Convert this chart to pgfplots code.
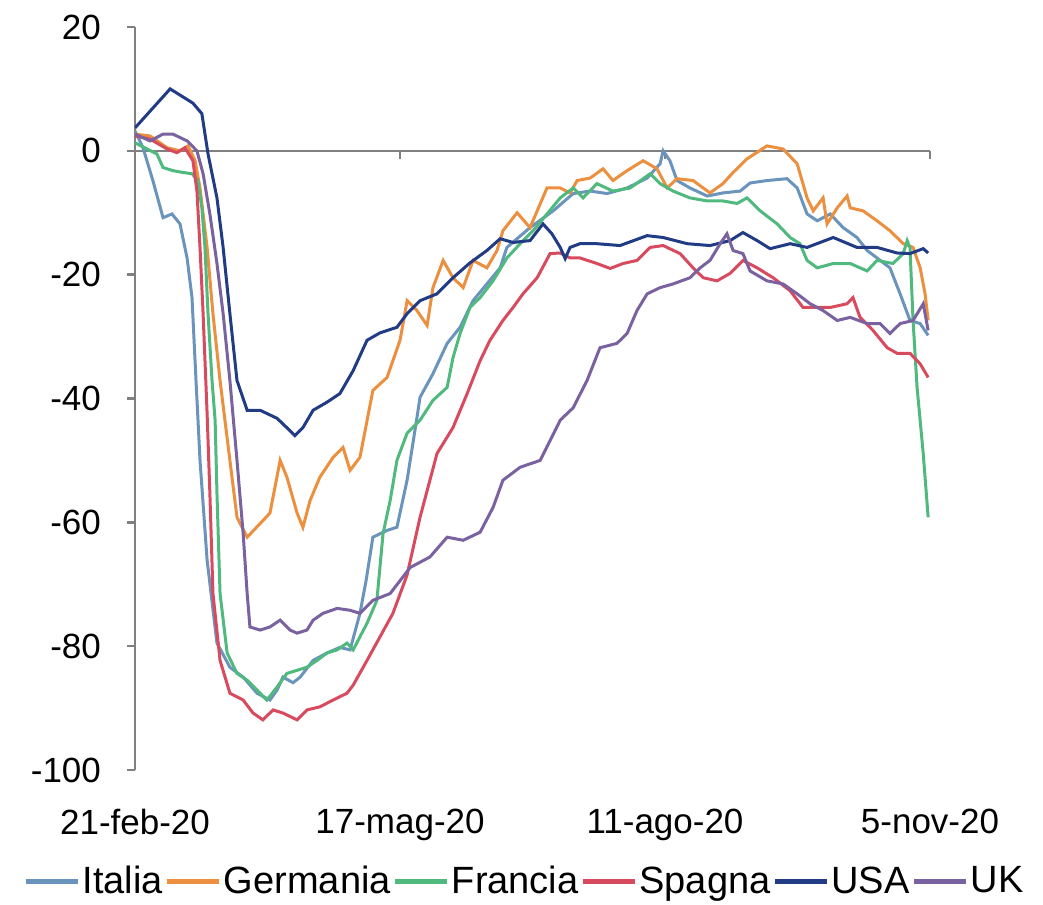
\documentclass[border=0pt]{standalone}
\usepackage{fontspec}
\setmainfont{Liberation Sans}
\usepackage{pgfplots}
\pgfplotsset{compat=1.18}

\definecolor{cItalia}{HTML}{6A94BC}
\definecolor{cGermania}{HTML}{EC8F3E}
\definecolor{cFrancia}{HTML}{4FB97E}
\definecolor{cSpagna}{HTML}{D84A5E}
\definecolor{cUSA}{HTML}{213C84}
\definecolor{cUK}{HTML}{7A62A0}
\definecolor{axgray}{HTML}{808080}

\begin{document}
\begin{tikzpicture}
\begin{axis}[
    scale only axis,
    width=397.5pt, height=371.5pt,
    xmin=0, xmax=258,
    ymin=-100, ymax=20,
    axis x line*=middle,
    axis y line*=left,
    hide obscured x ticks=false,
    axis line style={axgray, line width=1.2pt},
    tick style={axgray, line width=1.2pt},
    tick align=outside,
    major tick length=4pt,
    xtick={0,86,172,258},
    xticklabels={21-feb-20,17-mag-20,11-ago-20,5-nov-20},
    ytick={-100,-80,-60,-40,-20,0,20},
    yticklabels={-100,-80,-60,-40,-20,0,20},
    ticklabel style={font=\fontsize{17.5}{21}\selectfont},
    xticklabel shift=321.5pt,
    yticklabel style={xshift=-9.5pt},
    every axis plot/.append style={line width=1.5pt},
    legend columns=6,
    legend style={at={(0.49,-0.118)}, anchor=north, draw=none,
        font=\fontsize{19}{22}\selectfont,
        nodes={inner xsep=1pt},
        /tikz/every even column/.append style={column sep=0pt}},
    legend image code/.code={\draw[#1, line width=2.5pt] (0pt,0pt) -- (26pt,0pt);},
]
% Italia
\addplot[cItalia] coordinates {
(0,3.2)(2.6,0.5)(5.8,-4.8)(9.1,-10.8)(12.0,-10.2)(14.6,-11.8)(16.9,-17.3)(18.5,-23.7)
(19.8,-37.1)(21.1,-50.0)(23.4,-66.1)(26.6,-79.5)(30.8,-83.4)(35.1,-85.0)(39.6,-87.6)
(43.8,-88.7)(46.1,-87.1)(48.0,-85.0)(51.3,-85.9)(53.6,-85.0)(57.8,-82.3)(62.3,-81.1)
(66.5,-80.2)(69.8,-80.6)(73.0,-74.7)(75.0,-69.4)(77.2,-62.4)(81.8,-61.3)(85.0,-60.8)
(88.3,-53.2)(91.5,-43.1)(92.5,-39.8)(96.7,-36.0)(101.3,-31.1)(105.5,-28.5)(109.7,-24.2)
(114.2,-21.5)(118.5,-18.9)(120.7,-15.6)(128.2,-12.4)(135.7,-9.7)(142.2,-6.9)(147.7,-6.5)
(153.2,-6.9)(159.7,-6.0)(166.2,-4.4)(170.4,-2.1)(171.4,0)(173.6,-1.6)(175.9,-4.8)
(180.1,-6.0)(185.7,-7.3)(190.8,-6.8)(196.4,-6.5)(199.6,-5.2)(205.1,-4.8)(211.6,-4.5)
(214.9,-6.0)(218.1,-10.2)(221.4,-11.3)(225.6,-10.2)(229.8,-12.4)(234.3,-14.0)(237.6,-16.1)
(240.8,-17.3)(245.0,-18.9)(248.3,-23.1)(251.5,-27.4)(254.8,-27.9)(257.4,-29.8)
};
\addlegendentry{Italia}
% Germania
\addplot[cGermania] coordinates {
(0,2.7)(4.9,2.4)(10.4,0.5)(14.6,0)(17.2,0.8)(19.5,-1.6)(21.1,-6.0)(23.4,-15.6)
(25.3,-26.3)(27.6,-37.1)(30.8,-50.0)(33.1,-59.2)(36.4,-62.4)(40.6,-60.2)(43.8,-58.5)
(47.1,-50.0)(49.3,-52.7)(52.6,-58.5)(54.5,-60.8)(56.8,-56.5)(60.0,-52.7)(64.3,-49.5)
(67.5,-47.9)(69.8,-51.6)(73.0,-49.5)(77.2,-38.7)(81.8,-36.6)(86.0,-30.6)(87.0,-27.9)
(88.3,-24.2)(91.5,-25.8)(94.8,-28.2)(96.7,-22.1)(100.0,-17.7)(103.2,-20.5)(106.5,-22.1)
(109.7,-17.7)(114.2,-18.9)(117.5,-16.1)(119.4,-12.9)(124.0,-10.0)(128.2,-12.4)(133.7,-6.0)
(138.0,-6.0)(141.2,-6.8)(143.5,-4.8)(147.7,-4.4)(151.9,-2.9)(155.1,-4.8)(159.7,-3.2)
(164.9,-1.6)(169.4,-2.9)(172.7,-6.0)(175.9,-4.5)(181.1,-4.8)(186.6,-6.8)(190.8,-5.3)
(194.1,-3.5)(198.6,-1.3)(205.1,0.8)(210.3,0.3)(214.9,-2.1)(218.1,-7.6)(220.1,-9.7)
(223.3,-7.6)(224.6,-11.8)(227.9,-9.2)(231.1,-7.3)(232.1,-9.2)(236.3,-9.7)(240.8,-11.3)
(245.0,-12.9)(249.3,-15.0)(252.5,-15.6)(254.8,-18.9)(256.4,-23.1)(257.4,-27.4)
};
\addlegendentry{Germania}
% Francia
\addplot[cFrancia] coordinates {
(0,1.3)(3.9,0.3)(7.1,-0.5)(9.1,-2.7)(12.3,-3.2)(15.6,-3.5)(18.5,-3.7)(20.4,-4.8)
(21.7,-9.2)(22.7,-15.6)(23.7,-26.3)(25.0,-37.1)(26.0,-43.5)(26.6,-55.3)(27.6,-71.5)
(29.9,-81.1)(33.1,-84.4)(36.4,-85.5)(39.6,-87.1)(42.8,-88.7)(46.1,-86.6)(49.3,-84.4)
(52.6,-83.9)(55.8,-83.4)(59.1,-82.3)(62.3,-81.1)(65.6,-80.6)(68.8,-79.5)(70.8,-80.6)
(75.3,-76.3)(78.5,-72.6)(80.5,-61.8)(82.8,-56.5)(85.0,-50.0)(88.3,-45.6)(92.5,-43.5)
(96.7,-40.3)(101.3,-38.2)(103.2,-33.4)(105.5,-29.5)(108.7,-25.3)(112.0,-23.7)(116.2,-21.0)
(120.7,-17.3)(125.0,-15.0)(129.2,-12.9)(133.7,-10.2)(138.0,-7.6)(142.2,-6.0)(145.4,-7.6)
(149.9,-5.3)(155.1,-6.5)(160.7,-6.0)(167.2,-3.7)(170.4,-5.3)(174.6,-6.5)(180.1,-7.6)
(185.7,-8.1)(190.8,-8.1)(195.4,-8.5)(198.6,-7.6)(202.9,-9.7)(208.4,-11.8)(212.6,-14.0)
(215.8,-15.0)(218.1,-17.7)(221.4,-18.9)(226.6,-18.2)(232.1,-18.2)(237.6,-19.4)(240.8,-17.7)
(246.0,-18.2)(249.3,-16.6)(250.6,-14.5)(251.5,-15.6)(252.5,-27.4)(253.8,-38.2)(255.8,-48.9)
(257.4,-59.2)
};
\addlegendentry{Francia}
% Spagna
\addplot[cSpagna] coordinates {
(0,2.4)(4.9,1.9)(10.4,0.3)(13.6,-0.3)(16.2,0.5)(18.8,-1.6)(20.1,-6.5)(21.1,-15.6)
(22.1,-26.3)(23.4,-42.4)(24.3,-55.3)(25.3,-71.5)(27.6,-82.3)(30.8,-87.6)(35.1,-88.7)
(38.3,-90.8)(41.5,-91.9)(44.8,-90.3)(48.0,-90.8)(52.6,-91.9)(55.8,-90.3)(60.0,-89.8)
(64.3,-88.7)(68.8,-87.6)(70.8,-86.3)(75.3,-82.3)(79.5,-78.5)(83.7,-74.7)(88.3,-68.5)
(92.5,-59.2)(98.0,-48.9)(103.2,-44.7)(107.8,-39.2)(112.0,-33.9)(115.2,-30.6)(119.4,-27.4)
(122.7,-25.3)(125.9,-23.1)(130.5,-20.5)(134.7,-16.6)(138.0,-16.5)(141.2,-17.3)(144.4,-17.3)
(149.9,-18.2)(154.2,-19.0)(158.4,-18.2)(162.9,-17.7)(167.2,-15.6)(171.4,-15.3)(176.9,-16.6)
(181.1,-18.9)(184.4,-20.5)(188.9,-21.0)(193.1,-19.8)(197.3,-17.7)(201.9,-18.9)(207.1,-20.5)
(212.6,-22.6)(216.8,-25.3)(221.4,-25.3)(225.6,-25.3)(231.1,-24.7)(233.0,-23.7)(235.3,-26.9)
(239.5,-29.0)(244.1,-31.8)(247.3,-32.7)(251.5,-32.7)(254.8,-34.4)(257.4,-36.6)
};
\addlegendentry{Spagna}
% USA
\addplot[cUSA] coordinates {
(0,3.7)(11.4,10.0)(18.8,7.7)(21.7,6.0)(23.7,-0.5)(26.6,-7.6)(28.6,-15.6)(30.8,-26.3)
(33.1,-37.1)(36.4,-41.9)(40.6,-41.9)(46.1,-43.2)(50.3,-45.2)(51.9,-46.0)(54.5,-44.7)
(57.8,-41.9)(62.3,-40.6)(66.5,-39.2)(70.8,-35.5)(75.3,-30.6)(79.5,-29.4)(85.0,-28.5)
(88.3,-26.3)(92.5,-24.2)(98.0,-23.1)(103.2,-20.5)(108.7,-18.1)(114.2,-16.1)(118.5,-14.2)
(122.7,-14.8)(128.2,-14.5)(132.4,-11.8)(135.3,-13.4)(138.0,-15.6)(139.6,-17.4)(141.2,-15.6)
(144.4,-15.0)(149.9,-15.0)(157.4,-15.3)(166.2,-13.7)(171.4,-14.0)(179.2,-15.0)(186.6,-15.3)
(193.1,-14.5)(197.3,-13.2)(201.9,-14.5)(206.1,-15.8)(212.6,-15.0)(218.1,-15.6)(226.6,-14.0)
(234.3,-15.6)(240.8,-15.6)(247.3,-16.5)(251.5,-16.6)(255.8,-15.8)(257.4,-16.5)
};
\addlegendentry{USA}
% UK
\addplot[cUK] coordinates {
(0,2.7)(4.9,1.6)(9.1,2.7)(12.3,2.7)(16.9,1.6)(20.1,0)(22.1,-3.7)(24.3,-10.2)
(26.6,-18.2)(28.6,-26.3)(30.8,-37.1)(33.1,-50.0)(35.1,-61.8)(36.4,-71.5)(37.3,-76.9)
(40.6,-77.4)(43.8,-76.9)(47.1,-75.8)(50.3,-77.4)(52.6,-77.9)(55.8,-77.4)(57.8,-75.8)
(61.0,-74.7)(65.6,-73.9)(69.8,-74.2)(73.0,-74.7)(77.2,-72.6)(82.8,-71.5)(89.3,-67.3)
(95.7,-65.6)(101.3,-62.4)(106.5,-62.9)(112.0,-61.6)(116.2,-57.6)(119.4,-53.2)(125.0,-51.1)
(131.5,-50.0)(134.7,-46.8)(138.0,-43.5)(142.2,-41.5)(146.7,-37.1)(150.9,-31.8)(156.4,-31.1)
(159.7,-29.5)(162.9,-25.8)(166.2,-23.1)(170.4,-22.1)(174.6,-21.5)(180.1,-20.5)(183.4,-18.9)
(186.6,-17.7)(189.9,-15.0)(192.1,-13.4)(194.1,-16.1)(197.3,-16.6)(199.6,-19.4)(205.1,-21.0)
(210.3,-21.5)(214.9,-23.1)(219.1,-24.7)(223.3,-25.8)(227.9,-27.4)(232.1,-26.9)(237.6,-27.9)
(241.8,-27.9)(245.0,-29.5)(248.3,-27.9)(252.5,-27.4)(255.8,-24.7)(257.4,-29.0)
};
\addlegendentry{UK}
\end{axis}
\path (current axis.south west) +(-67.5pt,-64.5pt) (current axis.north east) +(56.5pt,13.5pt);
\end{tikzpicture}
\end{document}
